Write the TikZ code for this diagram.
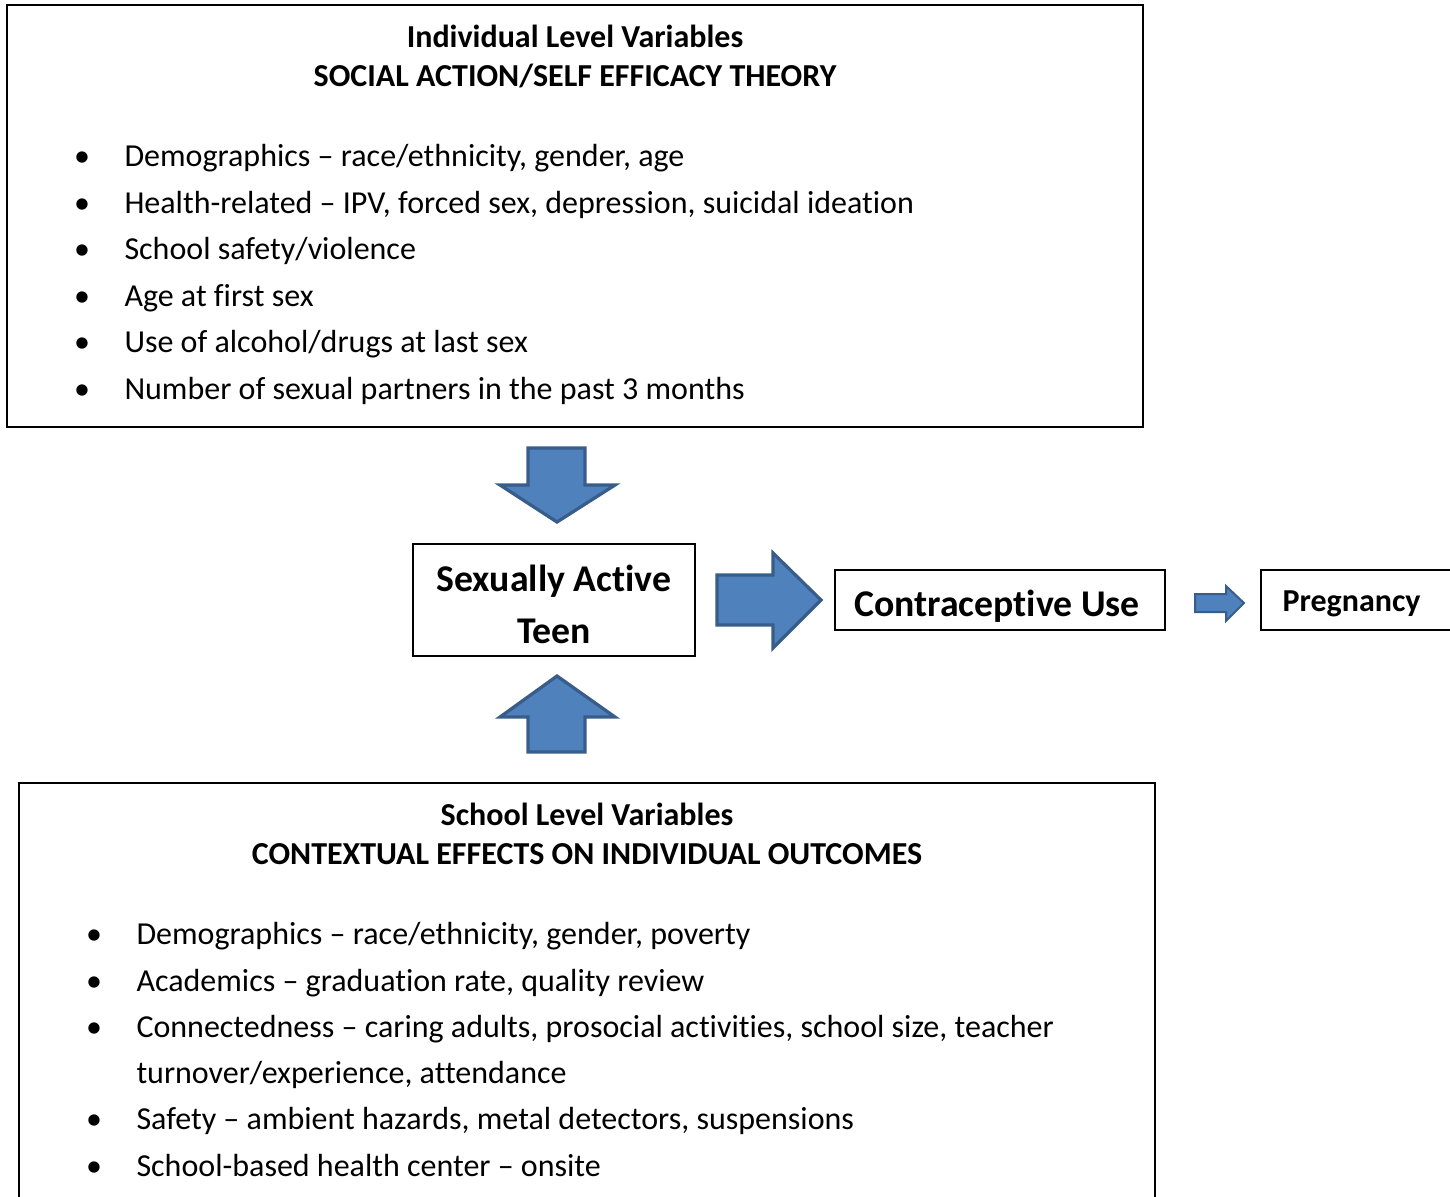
\documentclass[tikz,border=0pt]{standalone}
\usepackage{fontspec}
\setmainfont{Carlito}[Ligatures=NoCommon]
\usepackage{tikz}
\usetikzlibrary{positioning,calc}
\definecolor{arrowblue}{HTML}{4F81BD}
\definecolor{arrowedge}{HTML}{385D8A}
\tikzstyle{varbox} = [rectangle, draw, line width=0.8pt, inner sep=0pt]
\tikzstyle{heading} = [align=center, inner sep=0pt, %
   font=\bfseries\fontsize{12.8}{15.6}\selectfont]
\tikzstyle{item} = [anchor=west, inner sep=0pt, text height=1.6ex, text depth=0.4ex]
\tikzstyle{dot} = [item, anchor=center]
\tikzstyle{outcome} = [rectangle, draw, line width=0.6pt, %
   font=\bfseries\fontsize{15.1}{18}\selectfont]
\tikzstyle{blockarrow} = [draw=arrowedge, fill=arrowblue, line width=1.3pt, line join=miter]

\begin{document}
\begin{tikzpicture}[x=0.4pt, y=-0.4pt, font=\fontsize{12.8}{15.4}\selectfont]
   \useasboundingbox (0,0) rectangle (1450,1196);

   % INDIVIDUAL LEVEL %%%%%%%%%%%%%%%%%%%%%%%%%%%%%%%%%%%%%%%%%%%%%%%
   \node[varbox, minimum width=454.4pt, minimum height=168.8pt](indiv) at (575,216){};
   \node[heading](indivtitle) at (575,56){Individual Level Variables\\%
      SOCIAL ACTION/SELF EFFICACY THEORY};
   \node[dot] at (82,159){\textbullet};
   \node[item](ind1) at (124,159){Demographics – race/ethnicity, gender, age};
   \node[dot] at (82,206){\textbullet};
   \node[item](ind2) at (124,206){Health-related – IPV, forced sex, depression, suicidal ideation};
   \node[dot] at (82,252){\textbullet};
   \node[item](ind3) at (124,252){School safety/violence};
   \node[dot] at (82,299){\textbullet};
   \node[item](ind4) at (124,299){Age at first sex};
   \node[dot] at (82,345){\textbullet};
   \node[item](ind5) at (124,345){Use of alcohol/drugs at last sex};
   \node[dot] at (82,392){\textbullet};
   \node[item](ind6) at (124,392){Number of sexual partners in the past 3 months};

   % CENTRE ROW %%%%%%%%%%%%%%%%%%%%%%%%%%%%%%%%%%%%%%%%%%%%%%%%%%%%%
   \node[outcome, minimum width=112.8pt, minimum height=44.8pt](teen) at (554,600){};
   \node[align=center, inner sep=0pt, font=\bfseries\fontsize{15.1}{20.8}\selectfont]%
      (teentext) at (554,604){Sexually Active\\Teen};
   \node[outcome, minimum width=132pt, minimum height=24pt](contra) at (1000,600){};
   \node[inner sep=0pt, font=\bfseries\fontsize{15.1}{18}\selectfont, %
      text height=1.6ex, text depth=0.4ex](contratext) at (997,609){Contraceptive Use};
   \node[outcome, minimum width=83.6pt, minimum height=24pt](preg) at (1365.5,600){};
   \node[item, font=\bfseries\fontsize{12.8}{15.4}\selectfont](pregtext) at (1282,604){Pregnancy};

   % SCHOOL LEVEL %%%%%%%%%%%%%%%%%%%%%%%%%%%%%%%%%%%%%%%%%%%%%%%%%%%
   \node[varbox, minimum width=454.4pt, minimum height=178.8pt](school) at (587,1006.5){};
   \node[heading](schooltitle) at (587,834){School Level Variables\\%
      CONTEXTUAL EFFECTS ON INDIVIDUAL OUTCOMES};
   \node[dot] at (94,937){\textbullet};
   \node[item](sch1) at (136,937){Demographics – race/ethnicity, gender, poverty};
   \node[dot] at (94,984){\textbullet};
   \node[item](sch2) at (136,984){Academics – graduation rate, quality review};
   \node[dot] at (94,1030){\textbullet};
   \node[item](sch3) at (136,1030){Connectedness – caring adults, prosocial activities, school size, teacher};
   \node[item](sch3b) at (136,1076){turnover/experience, attendance};
   \node[dot] at (94,1122){\textbullet};
   \node[item](sch4) at (136,1122){Safety – ambient hazards, metal detectors, suspensions};
   \node[dot] at (94,1169){\textbullet};
   \node[item](sch5) at (136,1169){School-based health center – onsite};

   % Draw edges
   % block arrows into and out of the teen box
   \path[blockarrow] (528,448) -- (585,448) -- (585,485) -- (615,485) -- (557,522)
      -- (500,485) -- (528,485) -- cycle;
   \path[blockarrow] (557,676) -- (615,717) -- (585,717) -- (585,752) -- (528,752)
      -- (528,717) -- (500,717) -- cycle;
   \path[blockarrow] (717,575) -- (773,575) -- (773,553) -- (821,600) -- (773,648)
      -- (773,625) -- (717,625) -- cycle;
   \path[blockarrow, line width=0.8pt] (1195,594) -- (1226,594) -- (1226,586)
      -- (1244,603) -- (1226,621) -- (1226,612) -- (1195,612) -- cycle;
\end{tikzpicture}
\end{document}
